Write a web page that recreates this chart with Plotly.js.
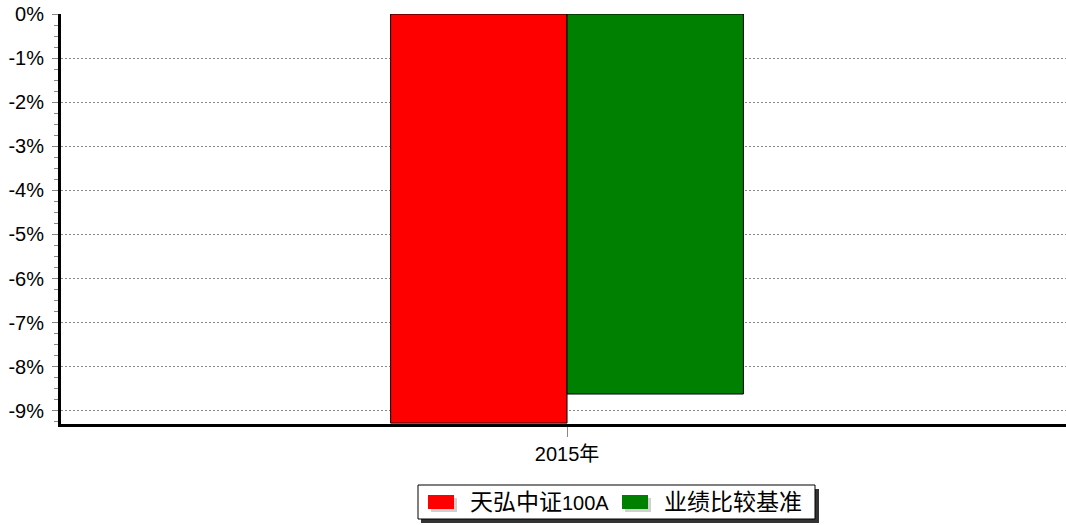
<!DOCTYPE html>
<html>
<head>
<meta charset="utf-8">
<script src="https://cdn.plot.ly/plotly-3.0.1.min.js"></script>
<style>html,body{margin:0;padding:0;background:#fff;}#chart{width:1066px;height:525px;}</style>
</head>
<body>
<div id="chart"></div>
<script>
const categories = ['2015年'];
const seriesNames = ['天弘中证100A', '业绩比较基准'];
const seriesColors = ['#ff0000', '#008000'];
const fundValues = [-9.28];
const benchValues = [-8.62];
const tickValues = [0, -1, -2, -3, -4, -5, -6, -7, -8, -9];
const tickLabels = tickValues.map(v => v + '%');

const FONT = '"Liberation Sans", Arial, "Noto Sans CJK SC", sans-serif';

// plot-area geometry (pixels) for the hand-drawn legend
const PL = 61, PW = 1005, PT = 14, PH = 410;
const px = x => (x - PL) / PW;
const py = y => (PT + PH - y) / PH;

const traces = [
  {type: 'bar', name: seriesNames[0], x: categories, y: fundValues,
   marker: {color: seriesColors[0], line: {color: '#000', width: 1}}, hoverinfo: 'none'},
  {type: 'bar', name: seriesNames[1], x: categories, y: benchValues,
   marker: {color: seriesColors[1], line: {color: '#000', width: 1}}, hoverinfo: 'none'}
];

function cjkWrap(s) {
  return s.replace(/([\u4e00-\u9fff]+)/g, '<span style="font-size:23px">$1</span>');
}

const shapes = [
  {type: 'rect', xref: 'paper', yref: 'paper', layer: 'above',
   x0: px(421), x1: px(819), y0: py(523), y1: py(489), fillcolor: '#333', line: {width: 0}},
  {type: 'rect', xref: 'paper', yref: 'paper', layer: 'above',
   x0: px(418), x1: px(815), y0: py(519), y1: py(485), fillcolor: '#fff', line: {color: '#000', width: 1}}
];
const annotations = [];
const swatchX = [428, 622];
const textX = [468, 662];
seriesNames.forEach((n, i) => {
  shapes.push({type: 'rect', xref: 'paper', yref: 'paper', layer: 'above',
    x0: px(swatchX[i] + 3), x1: px(swatchX[i] + 29), y0: py(512), y1: py(498),
    fillcolor: '#d0d0d0', line: {width: 0}});
  shapes.push({type: 'rect', xref: 'paper', yref: 'paper', layer: 'above',
    x0: px(swatchX[i]), x1: px(swatchX[i] + 26), y0: py(509), y1: py(495),
    fillcolor: seriesColors[i], line: {width: 0}});
  annotations.push({xref: 'paper', yref: 'paper', x: px(textX[i]), y: py(502),
    xanchor: 'left', yanchor: 'middle', showarrow: false, text: cjkWrap(n),
    font: {family: FONT, size: 20, color: '#000'}});
});

const layout = {
  width: 1066, height: 525,
  margin: {l: PL, r: 0, t: PT, b: 525 - PT - PH},
  paper_bgcolor: '#fff', plot_bgcolor: '#fff',
  barmode: 'group', bargap: 0.649, bargroupgap: 0,
  font: {family: FONT, size: 20, color: '#000'},
  showlegend: false,
  xaxis: {type: 'category', showline: true, linecolor: '#000', linewidth: 3,
          ticks: 'outside', ticklen: 10, tickcolor: '#888', tickwidth: 1,
          showgrid: false, zeroline: false, tickfont: {size: 20},
          range: [-0.5035, 0.4965]},
  yaxis: {range: [-9.3, 0], showline: true, linecolor: '#000', linewidth: 3,
          tickvals: tickValues, ticktext: tickLabels,
          ticks: 'outside', ticklen: 6, tickcolor: '#888', tickwidth: 1,
          ticklabelstandoff: 4,
          showgrid: true, gridcolor: '#888', griddash: '2px,2px', gridwidth: 1,
          zeroline: false, tickfont: {size: 20},
          minor: {dtick: 0.25, tick0: 0, ticks: 'outside', ticklen: 4, tickcolor: '#888', showgrid: false}},
  shapes: shapes,
  annotations: annotations
};

Plotly.newPlot('chart', traces, layout, {displayModeBar: false, staticPlot: true});
</script>
</body>
</html>
